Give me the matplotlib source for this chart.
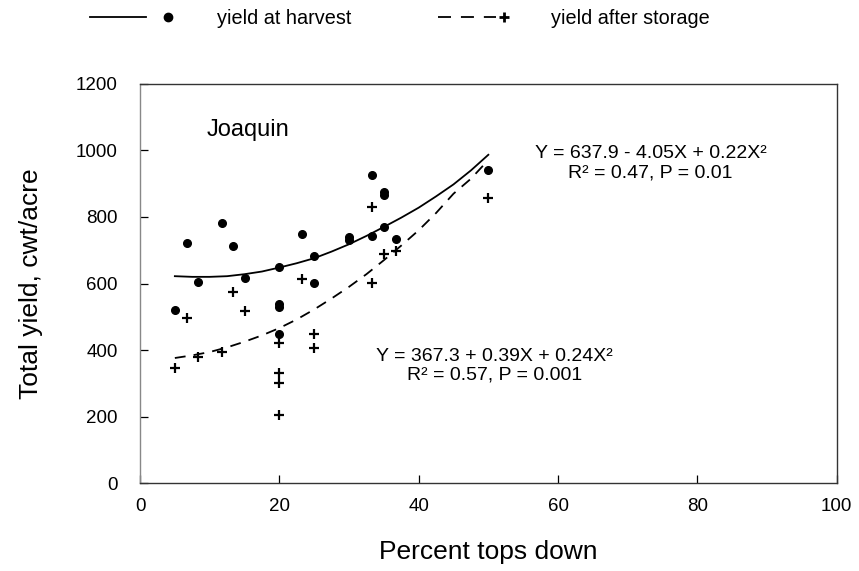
import matplotlib
matplotlib.use('Agg')
import matplotlib.pyplot as plt
from matplotlib.lines import Line2D
from matplotlib.legend_handler import HandlerBase

plt.rcParams['font.family'] = ['Liberation Sans', 'DejaVu Sans']

# yield at harvest (points)
x_harvest = [5, 6.7, 8.3, 11.7, 13.3, 15, 20, 20, 20, 20, 23.3, 25, 25,
             30, 30, 33.3, 33.3, 35, 35, 35, 36.7, 50]
y_harvest = [520, 722, 605, 782, 712, 618, 650, 538, 530, 448, 749, 683, 602,
             731, 740, 927, 743, 875, 865, 770, 734, 941]

# yield after storage (points)
x_storage = [5, 6.7, 8.3, 11.7, 13.3, 15, 20, 20, 20, 20, 23.3, 25, 25,
             33.3, 33.3, 35, 36.7, 50]
y_storage = [346, 496, 379, 394, 575, 518, 420, 330, 300, 205, 613, 448, 405,
             830, 601, 688, 698, 857]

# fitted curves
x_fit_h = [5, 7.5, 10, 12.5, 15, 17.5, 20, 22.5, 25, 27.5, 30, 32.5, 35,
           37.5, 40, 42.5, 45, 47.5, 50]
y_fit_h = [622, 620, 620, 622, 628, 636, 648, 661, 676, 696, 718, 743, 770,
           798, 828, 862, 898, 940, 987]
x_fit_s = [5, 7.5, 10, 12.5, 15, 17.5, 20, 22.5, 25, 27.5, 30, 32.5, 35,
           37.5, 40, 42.5, 45, 47.5, 49.5]
y_fit_s = [376, 384, 394, 408, 425, 444, 466, 492, 522, 555, 590, 628, 670,
           714, 760, 812, 870, 915, 960]

eq_harvest = 'Y = 637.9 - 4.05X + 0.22X\u00b2\nR\u00b2 = 0.47, P = 0.01'
eq_storage = 'Y = 367.3 + 0.39X + 0.24X\u00b2\nR\u00b2 = 0.57, P = 0.001'


class LineThenMarker(HandlerBase):
    def __init__(self, line_start, line_end, marker_pos):
        super().__init__()
        self.line_start = line_start
        self.line_end = line_end
        self.marker_pos = marker_pos

    def create_artists(self, legend, orig_handle, xdescent, ydescent,
                       width, height, fontsize, trans):
        line, mark = orig_handle
        y = height / 2 - ydescent
        x0 = -xdescent
        ln = Line2D([x0 + self.line_start * width, x0 + self.line_end * width], [y, y])
        ln.update_from(line)
        ln.set_transform(trans)
        mk = Line2D([x0 + self.marker_pos * width], [y])
        mk.update_from(mark)
        mk.set_transform(trans)
        return [ln, mk]


fig = plt.figure(figsize=(8.59, 5.71), dpi=100)
ax = fig.add_axes([0.163, 0.154, 0.811, 0.699])

ax.plot(x_fit_h, y_fit_h, '-', color='black', lw=1.3)
ax.plot(x_fit_s, y_fit_s, '--', color='black', lw=1.3, dashes=(6, 4.5))
ax.plot(x_harvest, y_harvest, 'o', color='black', ms=5.5)
ax.plot(x_storage, y_storage, '+', color='black', ms=6.5, mew=1.6)

ax.set_xlim(0, 100)
ax.set_ylim(0, 1200)
ax.set_xticks([0, 20, 40, 60, 80, 100])
ax.set_yticks([0, 200, 400, 600, 800, 1000, 1200])
ax.tick_params(direction='in', length=6, width=0.9, labelsize=13.5, colors='black')
ax.tick_params(axis='y', pad=16)
ax.tick_params(axis='x', pad=11)
for s in ax.spines.values():
    s.set_linewidth(1.0)
    s.set_color('#333333')
ax.spines['left'].set_color('#888888')

ax.set_xlabel('Percent tops down', fontsize=19)
ax.set_ylabel('Total yield, cwt/acre', fontsize=19)
ax.xaxis.set_label_coords(0.5, -0.143)
ax.yaxis.set_label_coords(-0.139, 0.5)

ax.text(9.5, 1062, 'Joaquin', fontsize=17, ha='left', va='center')
ax.text(73.3, 962, eq_harvest, fontsize=14, ha='center', va='center', linespacing=1.15)
ax.text(50.9, 353, eq_storage, fontsize=14, ha='center', va='center', linespacing=1.15)

h1 = (Line2D([], [], color='black', lw=1.3),
      Line2D([], [], ls='none', marker='o', color='black', ms=6))
h2 = (Line2D([], [], color='black', lw=1.3, ls='--', dashes=(7.2, 5.5)),
      Line2D([], [], ls='none', marker='+', color='black', ms=7, mew=2))
fig.legend([h1, h2], ['yield at harvest', 'yield after storage'],
           handler_map={h1: LineThenMarker(0.0, 0.68, 0.96),
                        h2: LineThenMarker(0.17, 0.88, 0.975)},
           loc='center left', bbox_to_anchor=(0.105, 0.967), ncol=2,
           frameon=False, fontsize=14.3, handlelength=4.1, handletextpad=2.26,
           columnspacing=3.7, borderaxespad=0, borderpad=0)

fig.savefig('out.png', dpi=100)
